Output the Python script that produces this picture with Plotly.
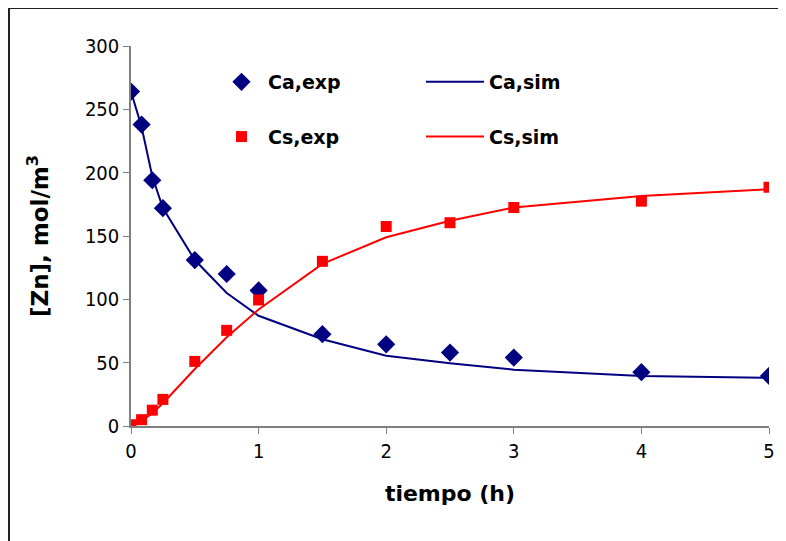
import plotly.graph_objects as go

t_exp = [0, 0.083, 0.167, 0.25, 0.5, 0.75, 1, 1.5, 2, 2.5, 3, 4, 5]
ca_exp = [264, 238, 194, 172, 131, 120, 107, 72.5, 64.5, 58, 54, 42.5, 39.5]
cs_exp = [1, 5, 12.5, 21, 51, 75.5, 99.5, 130, 157.5, 160.5, 172.5, 177.5, 188.5]

t_sim = [0, 0.083, 0.167, 0.25, 0.5, 0.75, 1, 1.5, 2, 2.5, 3, 4, 5]
ca_sim = [264, 236, 197, 172, 131, 105, 87, 68.5, 55.5, 49.5, 44.5, 39.5, 38]
cs_sim = [0, 4, 10, 18, 45, 70, 92, 128, 149, 162, 172.5, 181.5, 187]

x_ticks = [0, 1, 2, 3, 4, 5]
y_ticks = [0, 50, 100, 150, 200, 250, 300]

NAVY = "#000080"
RED = "#FF0000"
FONT = "DejaVu Sans Condensed, DejaVu Sans, sans-serif"
BFONT = "DejaVu Sans, sans-serif"

fig = go.Figure()
fig.add_trace(go.Scatter(x=t_exp, y=ca_exp, mode="markers", name="Ca,exp",
                         marker=dict(symbol="diamond", size=14, color=NAVY),
                         legend="legend", legendgroup="a"))
fig.add_trace(go.Scatter(x=t_sim, y=ca_sim, mode="lines", name="Ca,sim",
                         line=dict(color=NAVY, width=2), legend="legend2",
                         legendgroup="c"))
fig.add_trace(go.Scatter(x=t_exp, y=cs_exp, mode="markers", name="Cs,exp",
                         marker=dict(symbol="square", size=11, color=RED),
                         legend="legend", legendgroup="b"))
fig.add_trace(go.Scatter(x=t_sim, y=cs_sim, mode="lines", name="Cs,sim",
                         line=dict(color=RED, width=2), legend="legend2",
                         legendgroup="d"))

# page has an 8px body margin; figure overflows the window on right/bottom
OFF = 8
W, H = 800, 560
PL, PR, PT, PB = 131, 769, 46, 426  # plot area in page pixels
L, R, T, B = PL - OFF, (OFF + W) - PR, PT - OFF, (OFF + H) - PB
pw, ph = PR - PL, PB - PT

def px_x(px):
    return (px - PL) / pw

def px_y(py):
    return (PB - py) / ph

legend_font = dict(family=BFONT, size=19, color="black", weight="bold")
border = dict(color="#222222", width=2)

fig.update_layout(
    width=W, height=H,
    margin=dict(l=L, r=R, t=T, b=B),
    paper_bgcolor="white", plot_bgcolor="white",
    font=dict(family=FONT, size=20, color="black"),
    xaxis=dict(range=[0, 5], tickvals=x_ticks, showgrid=False, zeroline=False,
               showline=True, linecolor="#808080", linewidth=1.5,
               ticks="outside", ticklen=6, tickcolor="#808080", tickwidth=1.2,
               tickfont=dict(family=FONT, size=20), automargin=False,
               title=dict(text="tiempo (h)", font=dict(family=BFONT, size=22, weight="bold"),
                          standoff=24)),
    yaxis=dict(range=[0, 300], tickvals=y_ticks, showgrid=False, zeroline=False,
               showline=True, linecolor="#808080", linewidth=1.5,
               ticks="outside", ticklen=6, tickcolor="#808080", tickwidth=1.2,
               tickfont=dict(family=FONT, size=20), automargin=False,
               title=dict(text="[Zn], mol/m<sup>3</sup>",
                          font=dict(family=BFONT, size=23, weight="bold"),
                          standoff=30)),
    legend=dict(x=px_x(215), y=px_y(63), xanchor="left", yanchor="top",
                bgcolor="rgba(0,0,0,0)", font=legend_font, itemwidth=43,
                tracegroupgap=27),
    legend2=dict(x=px_x(421), y=px_y(63), xanchor="left", yanchor="top",
                 bgcolor="rgba(0,0,0,0)", font=legend_font, itemwidth=58,
                 tracegroupgap=27),
    showlegend=True,
    shapes=[
        dict(type="line", xref="paper", yref="paper",
             x0=px_x(9), x1=px_x(OFF + W), y0=px_y(8), y1=px_y(8),
             line=border, layer="below"),
        dict(type="line", xref="paper", yref="paper",
             x0=px_x(9), x1=px_x(9), y0=px_y(8), y1=px_y(OFF + H),
             line=border, layer="below"),
    ],
)

fig.write_html("out.html")
